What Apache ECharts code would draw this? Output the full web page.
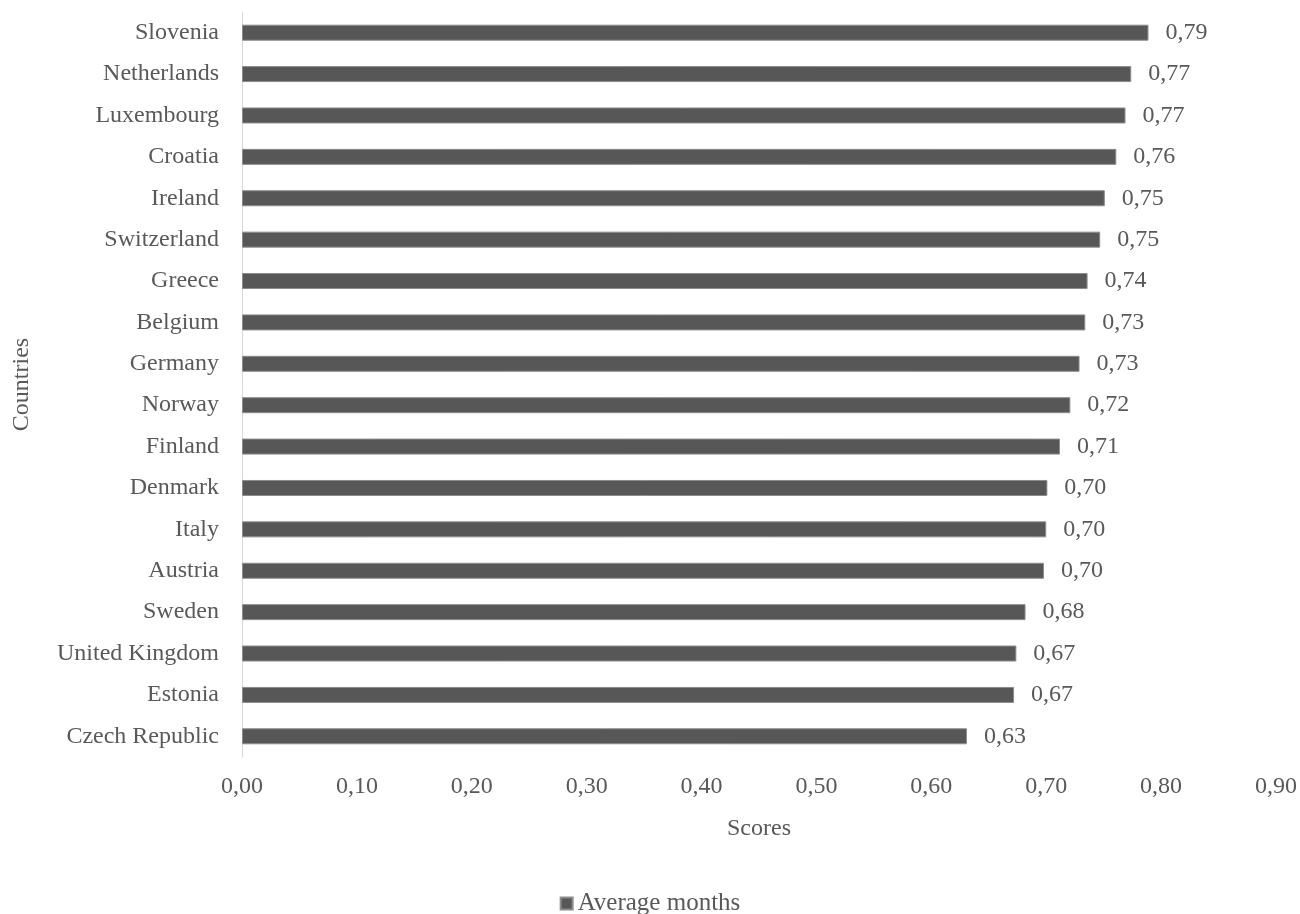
<!DOCTYPE html>
<html>
<head>
<meta charset="utf-8">
<script src="https://cdn.jsdelivr.net/npm/echarts@6/dist/echarts.min.js"></script>
<style>html,body{margin:0;padding:0;background:#fff}#c{width:1300px;height:914px}</style>
</head>
<body>
<div id="c"></div>
<script>
const countries = ["Slovenia","Netherlands","Luxembourg","Croatia","Ireland","Switzerland","Greece","Belgium","Germany","Norway","Finland","Denmark","Italy","Austria","Sweden","United Kingdom","Estonia","Czech Republic"];
const scores = [0.789,0.774,0.769,0.761,0.751,0.747,0.736,0.734,0.729,0.721,0.712,0.701,0.700,0.698,0.682,0.674,0.672,0.631];
const seriesName = "Average months";
const xTicks = {min: 0, max: 0.9, interval: 0.1};

const fmt = v => v.toFixed(2).replace('.', ',');
const font = "'Liberation Serif', 'DejaVu Serif', serif";
const chart = echarts.init(document.getElementById('c'));
chart.setOption({
  animation: false,
  textStyle: {fontFamily: font},
  grid: {left: 242, right: 24, top: 12, bottom: 157, containLabel: false},
  legend: {
    bottom: -7, left: 'center', itemWidth: 12, itemHeight: 12, itemGap: 8,
    icon: 'rect',
    textStyle: {fontFamily: font, fontSize: 25, color: '#595959'},
    data: [seriesName]
  },
  xAxis: {
    type: 'value', min: xTicks.min, max: xTicks.max, interval: xTicks.interval,
    name: 'Scores', nameLocation: 'middle', nameGap: 60,
    nameTextStyle: {fontFamily: font, fontSize: 24, color: '#595959'},
    axisLine: {show: false}, axisTick: {show: false}, splitLine: {show: false},
    axisLabel: {fontFamily: font, fontSize: 24, color: '#595959', margin: 18, formatter: fmt}
  },
  yAxis: {
    type: 'category', inverse: true, data: countries,
    name: 'Countries', nameLocation: 'middle', nameGap: 208, nameRotate: 90,
    nameTextStyle: {fontFamily: font, fontSize: 24, color: '#595959'},
    axisLine: {show: true, lineStyle: {color: '#d9d9d9', width: 1}},
    axisTick: {show: false},
    axisLabel: {fontFamily: font, fontSize: 24, color: '#595959', margin: 23}
  },
  series: [{
    name: seriesName, type: 'bar', data: scores, barWidth: 16,
    itemStyle: {color: '#575757', borderColor: '#8c8c8c', borderWidth: 1},
    label: {show: true, position: 'right', distance: 17, fontFamily: font, fontSize: 24, color: '#595959', formatter: p => fmt(p.value)}
  }]
});
</script>
</body>
</html>
